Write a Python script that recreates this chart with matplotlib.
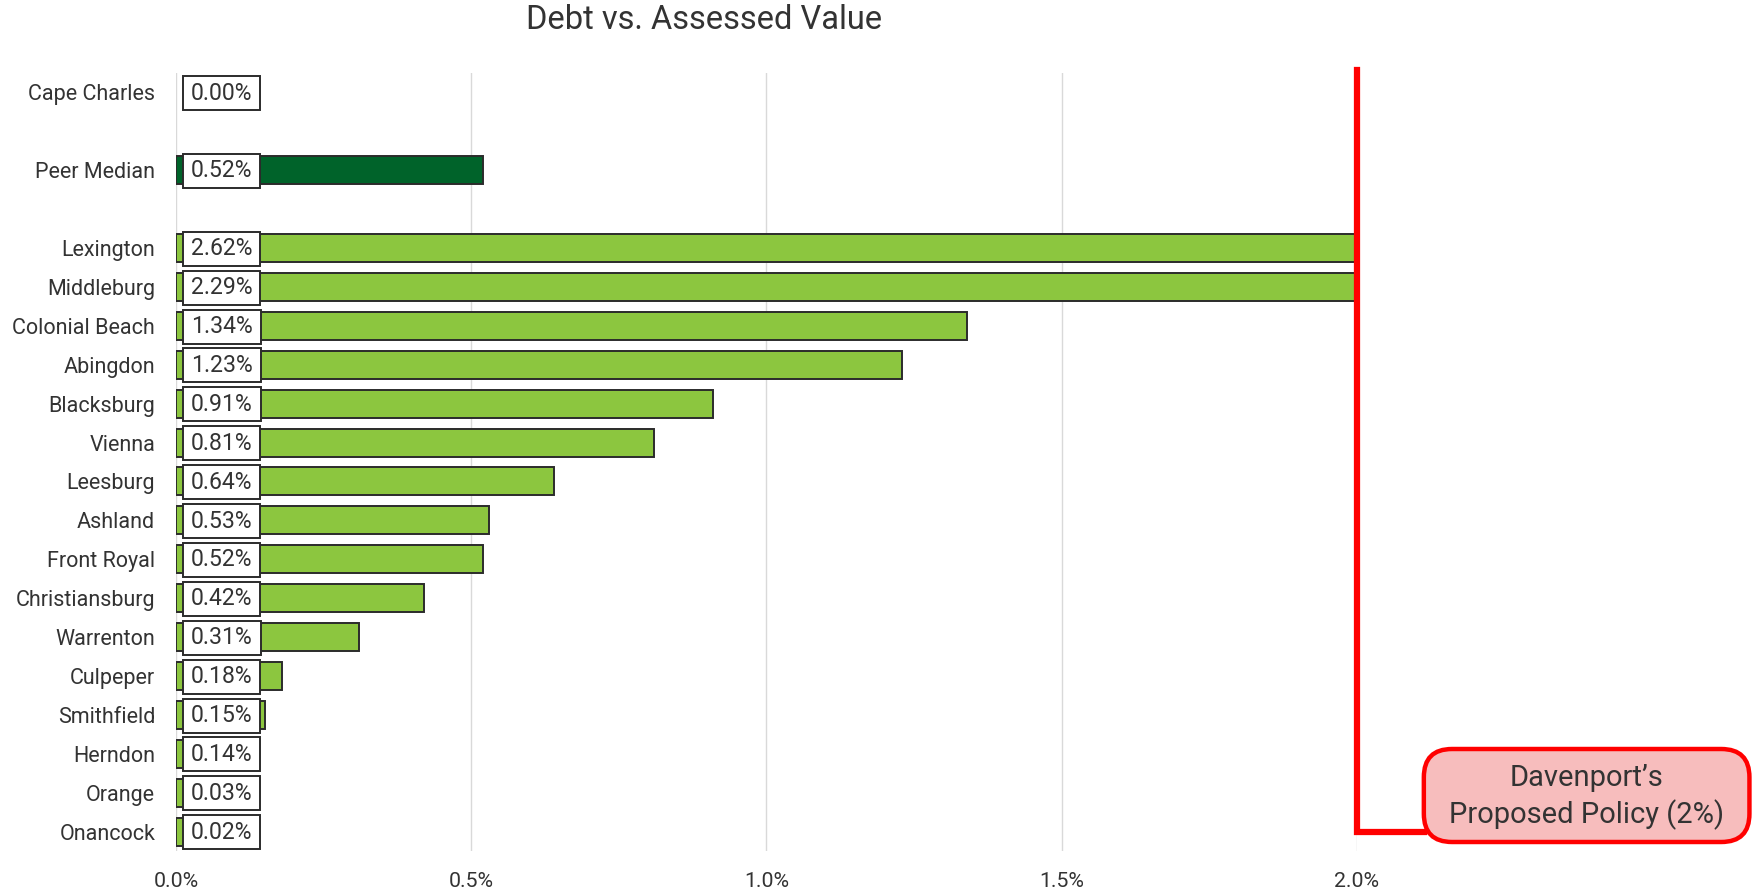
import numpy as np
import matplotlib
matplotlib.use("Agg")
import matplotlib.pyplot as plt
from matplotlib.patches import FancyBboxPatch
from matplotlib.path import Path

plt.rcParams["font.family"] = ["Roboto", "DejaVu Sans"]

# debt as a share of assessed value, in percent
towns = ["Cape Charles", "", "Peer Median", "",
         "Lexington", "Middleburg", "Colonial Beach", "Abingdon", "Blacksburg",
         "Vienna", "Leesburg", "Ashland", "Front Royal", "Christiansburg",
         "Warrenton", "Culpeper", "Smithfield", "Herndon", "Orange", "Onancock"]
debt_pct = [0.00, None, 0.52, None,
            2.62, 2.29, 1.34, 1.23, 0.91,
            0.81, 0.64, 0.53, 0.52, 0.42,
            0.31, 0.18, 0.15, 0.14, 0.03, 0.02]
policy_cap = 2.0
xticks = [0.0, 0.5, 1.0, 1.5, 2.0]

LIGHT = "#8CC63F"
DARK = "#00632A"
EDGE = "#2B2B2B"
TEXT = "#333333"


def label_box(x0, y0, width, height, mutation_size):
    # square box, wider padding left/right than top/bottom
    px, py = 0.34 * mutation_size, 0.24 * mutation_size
    x0, y0 = x0 - px, y0 - py
    x1, y1 = x0 + width + 2 * px, y0 + height + 2 * py
    return Path([(x0, y0), (x1, y0), (x1, y1), (x0, y1), (x0, y0)], closed=True)


fig = plt.figure(figsize=(17.6, 8.9), dpi=100)
ax = fig.add_axes([0.1, 0.0438, 0.671, 0.8742])

ypos = np.arange(len(towns))
for y, name, v in zip(ypos, towns, debt_pct):
    if v is None:
        continue
    color = DARK if name == "Peer Median" else LIGHT
    ax.barh(y, v, height=0.72, color=color,
            edgecolor=EDGE, linewidth=0 if v == 0 else 1.4, zorder=3)
    ax.annotate(f"{v:.2f}%", xy=(0, y), xytext=(10.8, -0.5), textcoords="offset points",
                ha="left", va="center", fontsize=16.6, color=TEXT, zorder=5,
                bbox=dict(boxstyle=label_box, facecolor="white",
                          edgecolor=EDGE, linewidth=1.4))

ax.set_xlim(0, policy_cap)
ax.set_ylim(len(towns) - 0.5, -0.5)
ax.set_yticks(ypos)
ax.set_yticklabels(towns)
ax.set_xticks(xticks)
ax.set_xticklabels([f"{t:.1f}%" for t in xticks])
ax.tick_params(axis="y", length=0, pad=15, labelsize=15.5, labelcolor=TEXT)
ax.tick_params(axis="x", length=0, pad=15, labelsize=15.3, labelcolor=TEXT)
ax.grid(axis="x", color="#D9D9D9", linewidth=1.0, zorder=0)
for s in ax.spines.values():
    s.set_visible(False)

fig.text(0.4, 0.978, "Debt vs. Assessed Value", ha="center", va="center",
         fontsize=23.5, color=TEXT)

# policy callout box, sitting just right of the plot area
box_l, box_r = 0.809, 0.994
box_b, box_t = 1 - 842 / 890, 1 - 749 / 890
callout = FancyBboxPatch((box_l, box_b), box_r - box_l, box_t - box_b,
                         boxstyle="round,pad=0,rounding_size=0.016",
                         transform=fig.transFigure, facecolor="#F7BDBD",
                         edgecolor="#FF0000", linewidth=3.2, zorder=6,
                         mutation_aspect=1.98)
fig.patches.append(callout)
fig.text((box_l + box_r) / 2, (box_b + box_t) / 2 - 0.002,
         "Davenport\u2019s\nProposed Policy (2%)", ha="center", va="center",
         fontsize=21, color=TEXT, linespacing=1.3, zorder=7)

# red bracket from the 2% line down to the callout
fig.canvas.draw()
box_left_data = ax.transData.inverted().transform(
    fig.transFigure.transform((box_l, 0)))[0]
ax.plot([policy_cap, policy_cap, box_left_data],
        [-0.58, ypos[-1], ypos[-1]], color="#FF0000", linewidth=4.5,
        solid_joinstyle="miter", clip_on=False, zorder=6)

fig.savefig("out.png", dpi=100)
